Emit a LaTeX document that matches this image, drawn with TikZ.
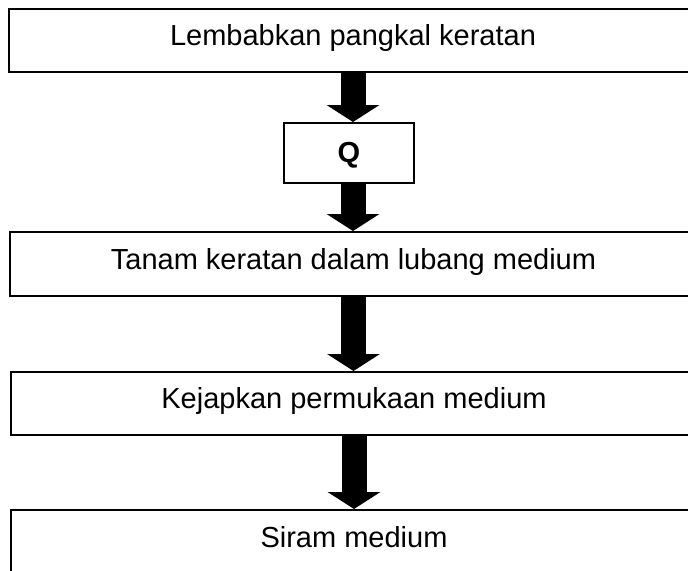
\documentclass[tikz,border=0pt]{standalone}
\usepackage{fontspec}
\setmainfont{Liberation Sans}
\usetikzlibrary{arrows.meta}

\begin{document}
\begin{tikzpicture}[x=0.5pt,y=-0.5pt,
        stepbox/.style={draw, line width=1pt, inner sep=0pt,
            text height=0.73em, text depth=0.21em,
            font=\fontsize{14.5pt}{17pt}\selectfont},
        fatarrow/.style={line width=12.5pt,
            -{Triangle[width=26pt,length=8.5pt]}}]
            \useasboundingbox (0,0) rectangle (688,570);

            \node[stepbox, minimum width=344pt, minimum height=31.5pt] (lembab) at (353,40.5) {Lembabkan pangkal keratan};
            \node[stepbox, minimum width=65pt, minimum height=30pt,
                text height=0.9em, text depth=0pt] (q) at (349,153) {\bfseries Q};
            \node[stepbox, minimum width=343.5pt, minimum height=32pt] (tanam) at (353.5,264) {Tanam keratan dalam lubang medium};
            \node[stepbox, minimum width=343pt, minimum height=31.5pt] (kejap) at (354,403.5) {Kejapkan permukaan medium};
            \node[stepbox, minimum width=343pt, minimum height=32pt] (siram) at (354,542) {Siram medium};

            \draw[fatarrow] (lembab.south) -- (lembab.south |- q.north);
            \draw[fatarrow] (q.south -| lembab.south) -- (lembab.south |- tanam.north);
            \draw[fatarrow] (tanam.south) -- (tanam.south |- kejap.north);
            \draw[fatarrow] (kejap.south) -- (kejap.south |- siram.north);
        \end{tikzpicture}
\end{document}
